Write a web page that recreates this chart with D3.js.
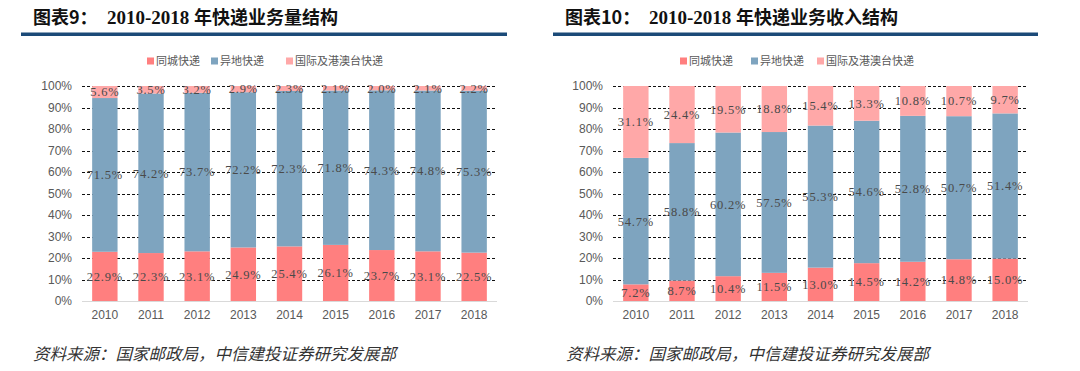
<!DOCTYPE html>
<html>
<head>
<meta charset="utf-8">
<script src="https://cdn.jsdelivr.net/npm/d3@7"></script>
<style>
  body { margin: 0; background: #fff; }
  svg { display: block; }
  .tick-label { font-family: "Liberation Sans", Arial, sans-serif; font-size: 12px; fill: #595959; }
  .legend-text { font-family: "Noto Sans CJK SC", sans-serif; font-size: 11px; fill: #595959; }
  .data-label { font-family: "Liberation Serif", serif; font-size: 12.5px; letter-spacing: 0.8px; fill: #4a4a4a; }
  .source { font-family: "Noto Sans CJK SC", sans-serif; font-size: 16.5px; font-style: italic; fill: #333; }
</style>
</head>
<body>
<div id="chart"></div>
<script>
// categories and series
var years = ["2010", "2011", "2012", "2013", "2014", "2015", "2016", "2017", "2018"];
var seriesNames = ["同城快递", "异地快递", "国际及港澳台快递"];

// 业务量结构 (%)
var volLocal = [22.9, 22.3, 23.1, 24.9, 25.4, 26.1, 23.7, 23.1, 22.5];
var volInter = [71.5, 74.2, 73.7, 72.2, 72.3, 71.8, 74.3, 74.8, 75.3];
var volIntl  = [5.6, 3.5, 3.2, 2.9, 2.3, 2.1, 2.0, 2.1, 2.2];

// 业务收入结构 (%)
var revLocal = [7.2, 8.7, 10.4, 11.5, 13.0, 14.5, 14.2, 14.8, 15.0];
var revInter = [54.7, 58.8, 60.2, 57.5, 55.3, 54.6, 52.8, 50.7, 51.4];
var revIntl  = [31.1, 24.4, 19.5, 18.8, 15.4, 13.3, 10.8, 10.7, 9.7];

var yTicks = [0, 0.1, 0.2, 0.3, 0.4, 0.5, 0.6, 0.7, 0.8, 0.9, 1.0];

var color = d3.scaleOrdinal()
    .domain(seriesNames)
    .range(["#ff7f7f", "#7ea4bf", "#ffa8a8"]);

var svg = d3.select("#chart").append("svg")
    .attr("width", 1080)
    .attr("height", 371);

function drawPanel(opt) {
    var g = svg.append("g");

    // TITLE
    g.append("text")
        .attr("x", opt.titleX)
        .attr("y", 24)
        .style("font-family", "'Noto Sans CJK SC', sans-serif")
        .style("font-weight", "bold")
        .style("font-size", "18px")
        .style("fill", "#111")
        .text(opt.titleHead);

    var t = g.append("text")
        .attr("x", opt.titleX2)
        .attr("y", 24)
        .style("font-weight", "bold")
        .style("font-size", "18px")
        .style("fill", "#111");
    t.append("tspan")
        .style("font-family", "'Liberation Serif', serif")
        .style("font-size", "19px")
        .text("2010-2018 ");
    t.append("tspan")
        .style("font-family", "'Noto Sans CJK SC', sans-serif")
        .text(opt.titleTail);

    g.append("rect")
        .attr("x", opt.lineX0)
        .attr("y", 32.5)
        .attr("width", opt.lineX1 - opt.lineX0)
        .attr("height", 3.5)
        .attr("fill", "#1b4a78");

    // LEGEND
    var legend = g.selectAll(".legend")
        .data(seriesNames)
        .enter().append("g")
        .attr("transform", function(d, i) { return "translate(" + opt.legendX[i] + ",61)"; });
    legend.append("rect")
        .attr("x", 0).attr("y", -3.5)
        .attr("width", 7).attr("height", 7)
        .attr("fill", function(d) { return color(d); });
    legend.append("text")
        .attr("class", "legend-text")
        .attr("x", 9)
        .attr("dy", "0.36em")
        .text(function(d) { return d; });

    // SCALES
    var x = d3.scaleBand()
        .domain(years)
        .range([opt.x0, opt.x1])
        .paddingInner(0.45)
        .paddingOuter(0.22);

    var y = d3.scaleLinear()
        .domain([0, 1])
        .range([301, 86]);

    // GRIDLINES (behind bars)
    g.selectAll(".grid")
        .data(yTicks.filter(function(d) { return d > 0; }))
        .enter().append("line")
        .attr("x1", opt.x0).attr("x2", opt.x1)
        .attr("y1", function(d) { return Math.round(y(d)) + 0.5; })
        .attr("y2", function(d) { return Math.round(y(d)) + 0.5; })
        .attr("stroke", "#111")
        .attr("stroke-width", 1)
        .attr("stroke-dasharray", "3,2");

    // Y AXIS
    var yAxis = d3.axisLeft(y)
        .tickValues(yTicks)
        .tickFormat(d3.format(".0%"))
        .tickSize(0)
        .tickPadding(0);
    var ya = g.append("g")
        .attr("transform", "translate(" + (opt.x0 - 10) + ",0)")
        .call(yAxis);
    ya.select(".domain").remove();
    ya.selectAll("text").attr("class", "tick-label").attr("fill", null).style("font-size", "12px");

    // STACK (percent, normalised per year)
    var rows = years.map(function(yr, i) {
        var r = { year: yr };
        r[seriesNames[0]] = opt.data[0][i];
        r[seriesNames[1]] = opt.data[1][i];
        r[seriesNames[2]] = opt.data[2][i];
        return r;
    });
    var stacked = d3.stack()
        .keys(seriesNames)
        .offset(d3.stackOffsetExpand)(rows);

    var layer = g.selectAll(".layer")
        .data(stacked)
        .enter().append("g")
        .attr("fill", function(d) { return color(d.key); });

    layer.selectAll("rect")
        .data(function(d) { return d; })
        .enter().append("rect")
        .attr("x", function(d) { return x(d.data.year); })
        .attr("width", x.bandwidth())
        .attr("y", function(d) { return y(d[1]); })
        .attr("height", function(d) { return y(d[0]) - y(d[1]); });

    // BASELINE
    g.append("line")
        .attr("x1", opt.x0).attr("x2", opt.x1)
        .attr("y1", 301.5).attr("y2", 301.5)
        .attr("stroke", "#d9d9d9");

    // DATA LABELS
    stacked.forEach(function(s) {
        g.selectAll(null)
            .data(s)
            .enter().append("text")
            .attr("class", "data-label")
            .attr("text-anchor", "middle")
            .attr("x", function(d) { return x(d.data.year) + x.bandwidth() / 2; })
            .attr("y", function(d) { return y((d[0] + d[1]) / 2); })
            .attr("dy", "0.35em")
            .text(function(d) { return d.data[s.key].toFixed(1) + "%"; });
    });

    // X AXIS LABELS
    var xAxis = d3.axisBottom(x).tickSize(0).tickPadding(0);
    var xa = g.append("g")
        .attr("transform", "translate(0,310)")
        .call(xAxis);
    xa.select(".domain").remove();
    xa.selectAll("text").attr("class", "tick-label").attr("fill", null).style("font-size", "12px");

    // SOURCE
    g.append("text")
        .attr("class", "source")
        .attr("x", opt.sourceX)
        .attr("y", 360)
        .text("资料来源：国家邮政局，中信建投证券研究发展部");
}

drawPanel({
    titleHead: "图表9：", titleTail: "年快递业务量结构",
    titleX: 33, titleX2: 107, lineX0: 21, lineX1: 507,
    legendX: [147, 211, 286],
    x0: 82, x1: 497,
    data: [volLocal, volInter, volIntl],
    sourceX: 33
});

drawPanel({
    titleHead: "图表10：", titleTail: "年快递业务收入结构",
    titleX: 565, titleX2: 649, lineX0: 553, lineX1: 1038,
    legendX: [680, 751, 817],
    x0: 613, x1: 1028,
    data: [revLocal, revInter, revIntl],
    sourceX: 566
});
</script>
</body>
</html>
